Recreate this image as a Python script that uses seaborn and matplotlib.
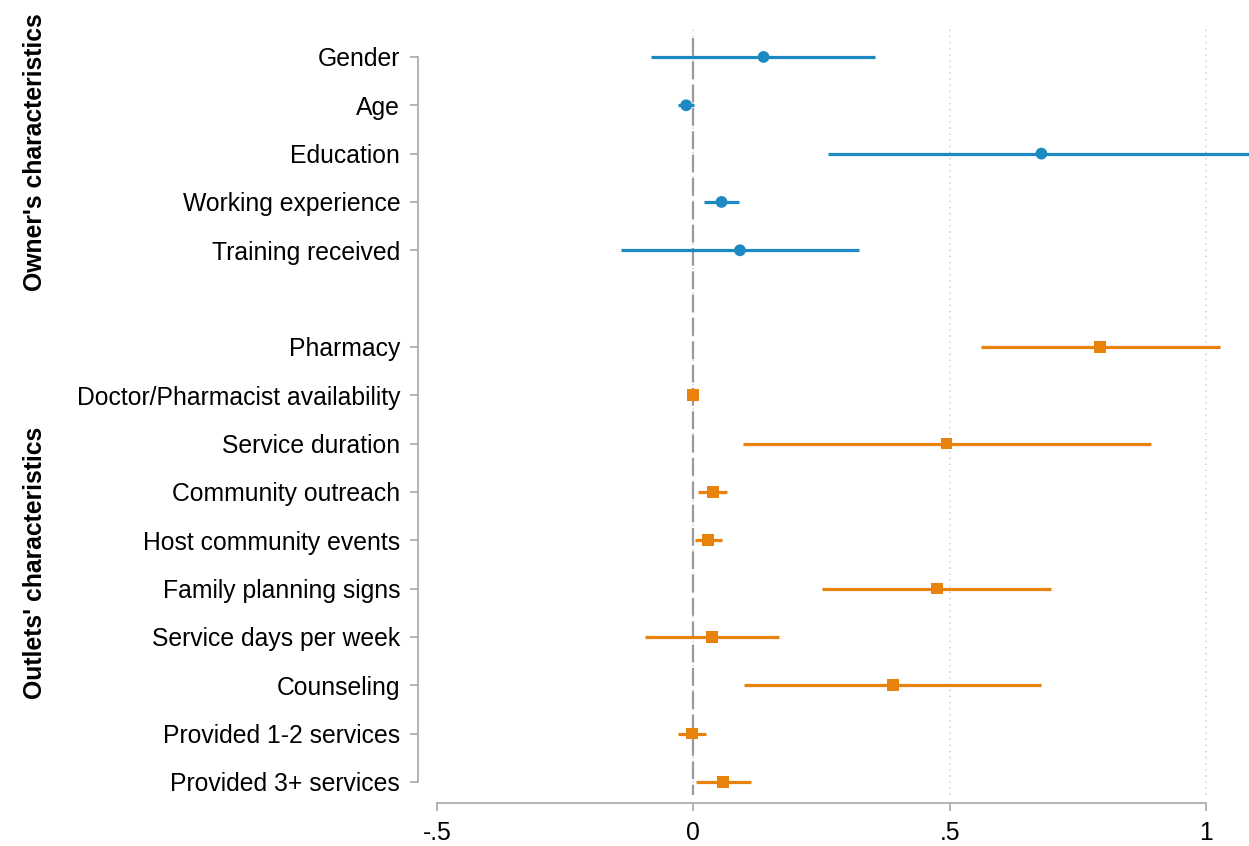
import matplotlib
matplotlib.use("Agg")
from matplotlib import pyplot as plt
import pandas as pd
import seaborn as sns

# coefficients and 95% CIs
owner_vars = ["Gender", "Age", "Education", "Working experience", "Training received"]
owner_coef = [0.137, -0.014, 0.679, 0.055, 0.091]
owner_lo = [-0.082, -0.029, 0.263, 0.020, -0.142]
owner_hi = [0.355, 0.002, 1.095, 0.090, 0.323]

outlet_vars = ["Pharmacy", "Doctor/Pharmacist availability", "Service duration",
               "Community outreach", "Host community events", "Family planning signs",
               "Service days per week", "Counseling", "Provided 1-2 services",
               "Provided 3+ services"]
outlet_coef = [0.794, 0.000, 0.494, 0.038, 0.029, 0.475, 0.036, 0.389, -0.002, 0.058]
outlet_lo = [0.562, -0.003, 0.097, 0.010, 0.003, 0.251, -0.095, 0.099, -0.029, 0.005]
outlet_hi = [1.027, 0.003, 0.892, 0.066, 0.055, 0.698, 0.168, 0.678, 0.025, 0.112]

xticks = [-0.5, 0, 0.5, 1]
xtick_labels = ["-.5", "0", ".5", "1"]

blue = "#1c89c2"
orange = "#e8820c"

# one empty row between the two groups
owner_pos = list(range(len(owner_vars)))
outlet_pos = [len(owner_vars) + 1 + i for i in range(len(outlet_vars))]

df = pd.DataFrame({
    "var": owner_vars + outlet_vars,
    "coef": owner_coef + outlet_coef,
    "lo": owner_lo + outlet_lo,
    "hi": owner_hi + outlet_hi,
    "pos": owner_pos + outlet_pos,
    "group": ["Owner"] * len(owner_vars) + ["Outlet"] * len(outlet_vars),
})

sns.set_style("white")
plt.rcParams["font.family"] = ["Liberation Sans", "DejaVu Sans"]
plt.rcParams["text.color"] = "black"

fig = plt.figure(figsize=(12.49, 8.46), dpi=100)
ax = fig.add_axes([0.3499, 0.0603, 0.6501, 0.9101])

# reference grid and zero line
for xv in xticks[1:]:
    ax.axvline(xv, color="#cfcfcf", lw=1.1, ls=(0, (1, 3)), zorder=0)
ax.vlines(0, -0.4, 15.3, color="#9a9a9a", lw=1.6, ls=(0, (8, 2.5)), zorder=1)

palette = {"Owner": blue, "Outlet": orange}
for g, sub in df.groupby("group"):
    ax.hlines(sub["pos"], sub["lo"], sub["hi"], color=palette[g], lw=2.3, zorder=2)

sns.scatterplot(data=df, x="coef", y="pos", hue="group", style="group",
                palette=palette, markers={"Owner": "o", "Outlet": "s"},
                s=72, linewidth=0, legend=False, ax=ax, zorder=3)

ax.set_xlim(-0.5, 1.084)
ax.set_ylim(15.27, -0.66)
ax.set_xticks(xticks)
ax.set_xticklabels(xtick_labels)
ax.set_yticks(df["pos"])
ax.set_yticklabels(df["var"])
ax.set_xlabel("")
ax.set_ylabel("")

for side in ["top", "right"]:
    ax.spines[side].set_visible(False)
ax.spines["left"].set_position(("outward", 13.7))
ax.spines["bottom"].set_position(("outward", 5.8))
ax.spines["left"].set_bounds(0, 15)
ax.spines["bottom"].set_bounds(-0.5, 1)
for side in ["left", "bottom"]:
    ax.spines[side].set_color("#a8a8a8")
    ax.spines[side].set_linewidth(1.2)

ax.tick_params(axis="both", which="major", labelsize=17.8, colors="#a8a8a8",
               labelcolor="black", width=1.2, length=5.8, pad=7)
ax.tick_params(axis="y", left=True)
ax.tick_params(axis="x", bottom=True)

# group labels
fig.text(0.028, 1 - 152 / 846, "Owner's characteristics", rotation=90,
         ha="center", va="center", fontsize=17.8, fontweight="bold", color="black")
fig.text(0.028, 1 - 563 / 846, "Outlets' characteristics", rotation=90,
         ha="center", va="center", fontsize=17.8, fontweight="bold", color="black")

plt.savefig("out.png", dpi=100)
